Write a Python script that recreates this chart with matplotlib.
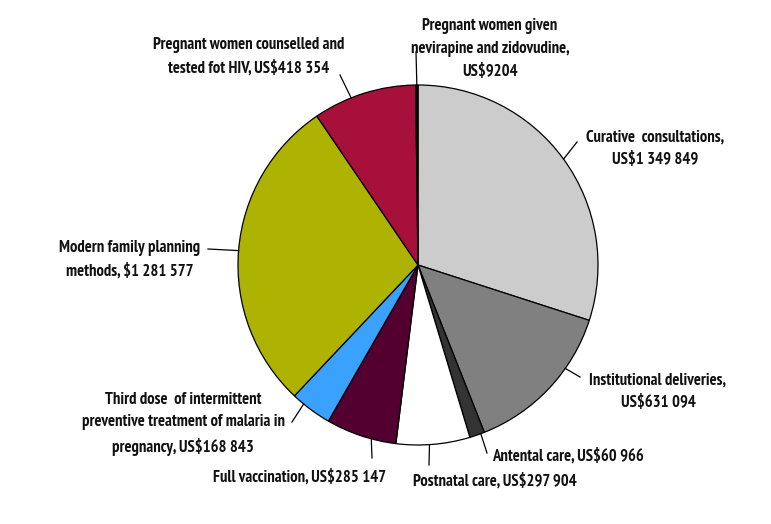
import numpy as np
import matplotlib.pyplot as plt
from matplotlib import font_manager

installed = {f.name for f in font_manager.fontManager.ttflist}
wanted = ["PT Sans Narrow", "Fira Sans Condensed", "Roboto Condensed",
          "Open Sans Condensed", "Archivo Narrow", "Asap Condensed",
          "Encode Sans Condensed", "IBM Plex Sans Condensed"]
font = next((n for n in wanted if n in installed), "DejaVu Sans")
plt.rcParams['font.family'] = [font, 'DejaVu Sans']

labels = [
    "Curative  consultations,\nUS$1 349 849",
    "Institutional deliveries,\nUS$631 094",
    "Antental care, US$60 966",
    "Postnatal care, US$297 904",
    "Full vaccination, US$285 147",
    "Third dose  of intermittent\npreventive treatment of malaria in\npregnancy, US$168 843",
    "Modern family planning\nmethods, $1 281 577",
    "Pregnant women counselled and\ntested fot HIV, US$418 354",
    "Pregnant women given\nnevirapine and zidovudine,\nUS$9204",
]
costs = [1349849, 631094, 60966, 297904, 285147, 168843, 1281577, 418354, 9204]
colors = ["#cccccc", "#808080", "#333333", "#ffffff", "#530031",
          "#3aa2fc", "#adb300", "#a7103a", "#000000"]

# label text centre, where along the wedge the leader starts, leader end (pixels, y down)
text_pos = [(655, 149), (658, 392), (568, 456), (495, 481), (300, 477),
            (183, 424), (130, 260), (249, 57), (490, 49)]
leader_frac = [0.5, 0.34, 0.25, 0.55, 0.35, 0.71, 0.5, 0.37, 0.5]
leader_end = [(577, 142), (580, 377), (487, 453), (429, 465), (372, 458),
              (292, 422), (208, 249), (340, 75), (416, 52)]

cx, cy, r = 418, 265, 180

fig = plt.figure(figsize=(7.71, 5.24), dpi=100)
ax = fig.add_axes([0, 0, 1, 1])
wedges, _ = ax.pie(costs, colors=colors, center=(cx, cy), radius=r,
                   startangle=-90, counterclock=True,
                   wedgeprops=dict(edgecolor="black", linewidth=0.9))
ax.set_xlim(0, 771)
ax.set_ylim(524, 0)
ax.set_aspect("equal")
ax.axis("off")

for w, lab, (tx, ty), f, (ex, ey) in zip(wedges, labels, text_pos, leader_frac, leader_end):
    ang = np.deg2rad(w.theta1 + f * (w.theta2 - w.theta1))
    sx = cx + r * np.cos(ang)
    sy = cy + r * np.sin(ang)
    ax.plot([sx, ex], [sy, ey], color="black", lw=0.9)
    ax.text(tx, ty, lab, ha="center", va="center", fontsize=12,
            fontweight="bold", linespacing=1.55, color="#111111")

plt.savefig("out.png", dpi=100)
